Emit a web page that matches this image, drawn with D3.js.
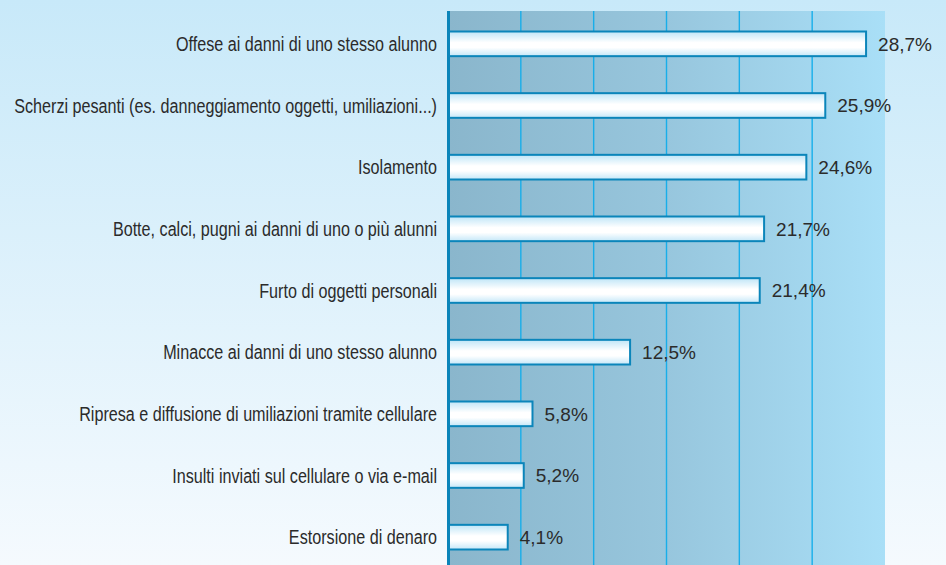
<!DOCTYPE html>
<html lang="it">
	<head>
		<meta charset="utf-8">
		<title>D3: bullismo a scuola</title>
		<script src="https://d3js.org/d3.v7.min.js"></script>
		<style type="text/css">
			body { margin: 0; }
		</style>
	</head>
	<body>
		<script type="text/javascript">

			var categories = [
				"Offese ai danni di uno stesso alunno",
				"Scherzi pesanti (es. danneggiamento oggetti, umiliazioni...)",
				"Isolamento",
				"Botte, calci, pugni ai danni di uno o più alunni",
				"Furto di oggetti personali",
				"Minacce ai danni di uno stesso alunno",
				"Ripresa e diffusione di umiliazioni tramite cellulare",
				"Insulti inviati sul cellulare o via e-mail",
				"Estorsione di denaro"
			];
			var values = [28.7, 25.9, 24.6, 21.7, 21.4, 12.5, 5.8, 5.2, 4.1];
			var gridTicks = [5, 10, 15, 20, 25];

			var w = 946, h = 565;
			var margin = {top: 11, right: 61, bottom: 0, left: 448};
			var labelRight = 437, longestLabelWidth = 423;

			var data = categories.map(function(c, i){
				return {name: c, value: values[i]};
			});

			var svg = d3.select("body")
						.append("svg")
						.attr("width", w)
						.attr("height", h);

			var defs = svg.append("defs");

			// page background: light blue fading to white
			var bg = defs.append("linearGradient")
				.attr("id", "bg").attr("x1", 0).attr("y1", 0).attr("x2", 0).attr("y2", 1);
			bg.append("stop").attr("offset", "0%").attr("stop-color", "#c8e9f9");
			bg.append("stop").attr("offset", "100%").attr("stop-color", "#f5fafe");

			// plot area: grey-blue to sky blue
			var plotGrad = defs.append("linearGradient")
				.attr("id", "plotGrad").attr("x1", 0).attr("y1", 0).attr("x2", 1).attr("y2", 0);
			plotGrad.append("stop").attr("offset", "0%").attr("stop-color", "#8ab6cc");
			plotGrad.append("stop").attr("offset", "50%").attr("stop-color", "#97c6dd");
			plotGrad.append("stop").attr("offset", "100%").attr("stop-color", "#a9dff7");

			// bars: white in the middle, light blue at edges
			var barGrad = defs.append("linearGradient")
				.attr("id", "barGrad").attr("x1", 0).attr("y1", 0).attr("x2", 0).attr("y2", 1);
			barGrad.append("stop").attr("offset", "0%").attr("stop-color", "#bfe5f7");
			barGrad.append("stop").attr("offset", "45%").attr("stop-color", "#ffffff");
			barGrad.append("stop").attr("offset", "65%").attr("stop-color", "#ffffff");
			barGrad.append("stop").attr("offset", "100%").attr("stop-color", "#c4e7f8");

			svg.append("rect")
				.attr("width", w)
				.attr("height", h)
				.attr("fill", "url(#bg)");

			var xscale = d3.scaleLinear()
				.domain([0, 30])
				.range([margin.left, w - margin.right]);

			var yscale = d3.scaleBand()
				.domain(categories)
				.range([13, 568])
				.paddingInner(0.6)
				.paddingOuter(0.3);

			svg.append("rect")
				.attr("x", xscale(0))
				.attr("y", margin.top)
				.attr("width", xscale(30) - xscale(0))
				.attr("height", h - margin.top)
				.attr("fill", "url(#plotGrad)");

			// vertical grid
			svg.append("g")
				.selectAll("line")
				.data(gridTicks)
				.enter()
				.append("line")
				.attr("x1", function(d){ return xscale(d); })
				.attr("x2", function(d){ return xscale(d); })
				.attr("y1", margin.top)
				.attr("y2", h)
				.attr("stroke", "#18aeea")
				.attr("stroke-width", 1.4);

			// y axis line
			svg.append("line")
				.attr("x1", xscale(0) + 0.5)
				.attr("x2", xscale(0) + 0.5)
				.attr("y1", margin.top)
				.attr("y2", h)
				.attr("stroke", "#0a84b9")
				.attr("stroke-width", 3);

			svg.selectAll(".bar")
				.data(data)
				.enter()
				.append("rect")
				.attr("class", "bar")
				.attr("x", xscale(0) + 1)
				.attr("y", function(d){ return yscale(d.name); })
				.attr("width", function(d){ return xscale(d.value) - xscale(0) - 1; })
				.attr("height", yscale.bandwidth())
				.attr("fill", "url(#barGrad)")
				.attr("stroke", "#0b85ba")
				.attr("stroke-width", 2);

			// category labels (condensed look: squeeze horizontally)
			var labels = svg.append("g")
				.selectAll("text")
				.data(data)
				.enter()
				.append("text")
				.attr("x", 0)
				.attr("y", 0)
				.attr("dy", "0.36em")
				.style("text-anchor", "end")
				.attr("font-family", "'Liberation Sans', Arial, sans-serif")
				.attr("font-size", "20px")
				.attr("fill", "#2b2b2b")
				.text(function(d){ return d.name; });

			var maxLen = d3.max(labels.nodes(), function(n){ return n.getComputedTextLength(); });
			var k = longestLabelWidth / maxLen;

			labels.attr("transform", function(d){
				return "translate(" + labelRight + "," + (yscale(d.name) + yscale.bandwidth() / 2) + ") scale(" + k + ",1)";
			});

			// value labels
			svg.append("g")
				.selectAll("text")
				.data(data)
				.enter()
				.append("text")
				.attr("x", function(d){ return xscale(d.value) + 12; })
				.attr("y", function(d){ return yscale(d.name) + yscale.bandwidth() / 2; })
				.attr("dy", "0.36em")
				.attr("font-family", "'Liberation Sans', Arial, sans-serif")
				.attr("font-size", "19px")
				.attr("fill", "#2b2b2b")
				.text(function(d){ return d.value.toFixed(1).replace(".", ",") + "%"; });

		</script>
	</body>
</html>
